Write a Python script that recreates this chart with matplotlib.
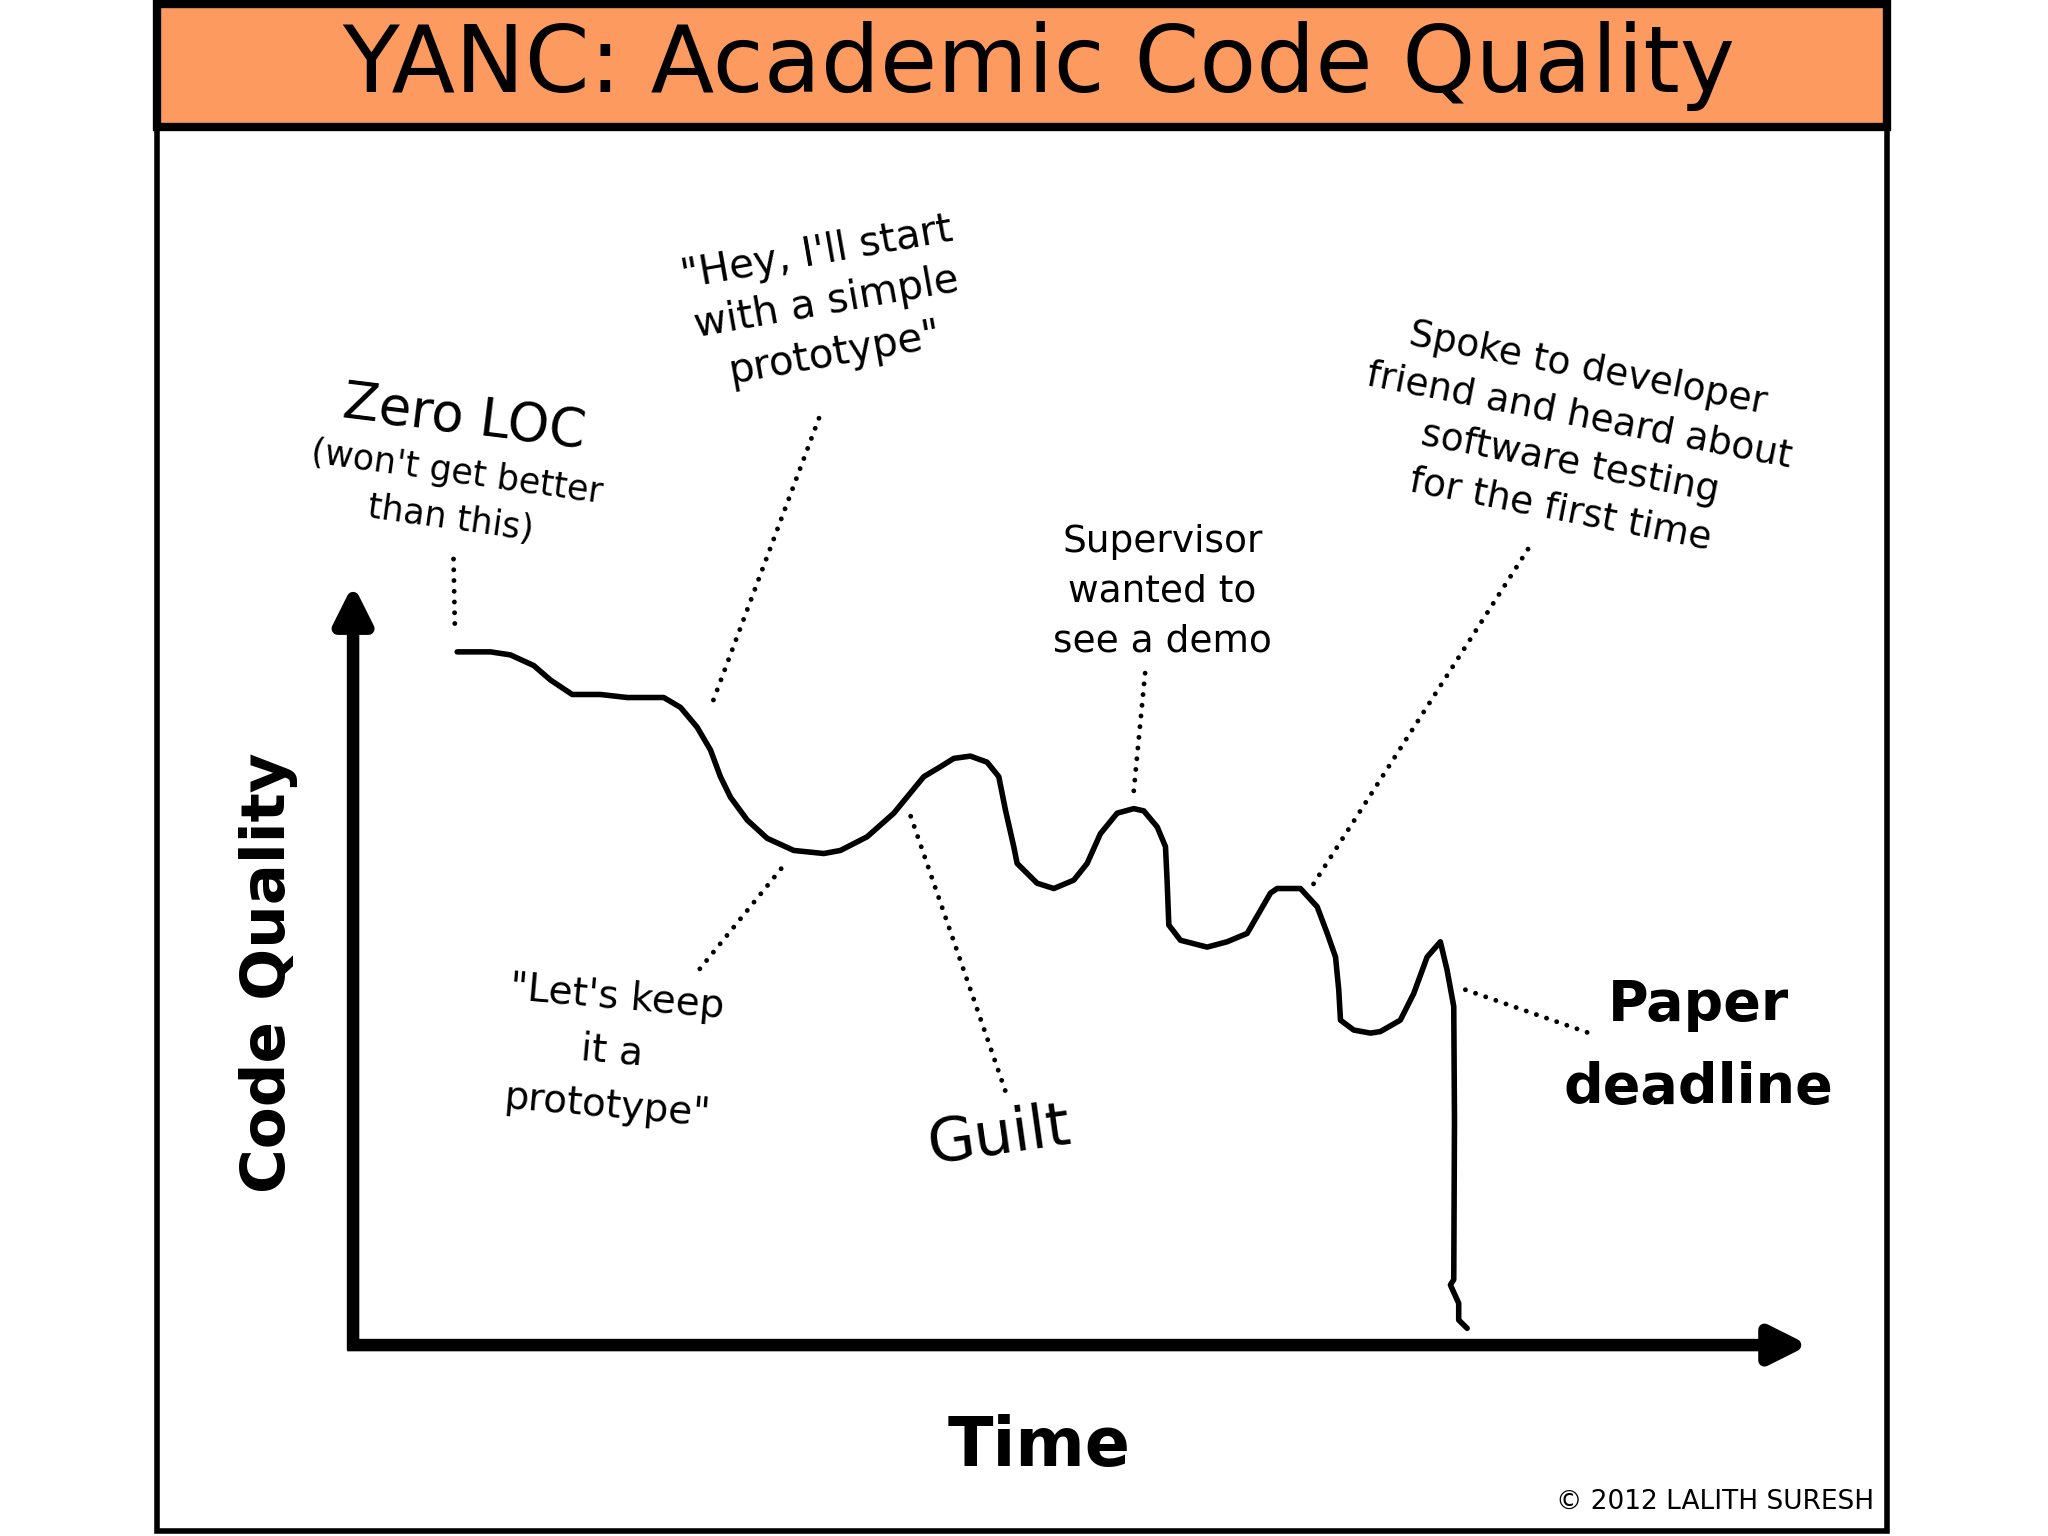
import matplotlib
matplotlib.use("Agg")
import matplotlib.pyplot as plt
from matplotlib.patches import Rectangle
from matplotlib import font_manager

# curve (time vs code quality, both 0..100)
time = [7.15, 9.44, 10.81, 12.41, 13.56, 15.05, 16.99, 18.83, 21.34, 22.49,
        23.63, 24.55, 25.23, 25.92, 27.07, 28.44, 30.27, 32.33, 33.47, 35.31,
        37.14, 39.20, 40.34, 41.26, 42.40, 43.55, 44.35, 44.81, 45.38, 45.61,
        46.98, 48.13, 49.50, 50.42, 51.33, 52.48, 53.62, 54.31, 55.23, 55.80,
        55.91, 56.03, 56.83, 58.66, 60.03, 61.41, 63.01, 63.47, 65.07, 66.22,
        66.91, 67.48, 67.70, 67.82, 68.73, 69.88, 70.56, 71.93, 72.85, 73.77,
        74.68, 75.14, 75.60, 75.65, 75.60, 75.37, 75.94, 75.94, 76.52]
quality = [91.1, 91.1, 90.7, 89.3, 87.4, 85.5, 85.5, 85.1, 85.1, 83.8,
           81.2, 78.2, 74.7, 72.0, 69.0, 66.6, 65.0, 64.6, 65.0, 66.8,
           69.9, 74.7, 76.0, 77.1, 77.4, 76.6, 74.7, 70.3, 65.5, 63.3,
           60.7, 60.0, 61.1, 63.3, 67.2, 69.9, 70.5, 70.2, 68.1, 65.5,
           61.1, 55.2, 53.2, 52.3, 53.0, 54.1, 59.4, 60.0, 60.0, 57.6,
           54.1, 51.0, 46.7, 42.7, 41.4, 41.0, 41.2, 42.7, 46.2, 51.0,
           53.0, 49.3, 44.5, 29.6, 8.6, 7.9, 5.5, 3.3, 2.2]

# annotations: text, text position, rotation, size, dotted leader (start, end)
labels = ["Zero LOC", "(won't get better\nthan this)",
          "\"Hey, I'll start\nwith a simple\nprototype\"",
          "\"Let's keep\nit a\nprototype\"", "Guilt",
          "Supervisor\nwanted to\nsee a demo",
          "Spoke to developer\nfriend and heard about\nsoftware testing\nfor the first time",
          "Paper\ndeadline"]
label_x = [7.6, 6.9, 32.5, 17.8, 44.4, 55.6, 83.9, 92.4]
label_y = [121.8, 111.6, 136.9, 38.6, 27.4, 99.0, 119.0, 39.2]
label_rot = [-7, -8, 10, -5, 8, 0, -11, 0]
label_size = [38, 25, 29, 28, 44, 27, 27, 40]
label_bold = [False, False, False, False, False, False, False, True]
label_spacing = [1.2, 1.45, 1.35, 1.55, 1.2, 1.5, 1.42, 1.7]

leader_x0 = [6.9, 32.0, 29.4, 38.3, 54.4, 80.7, 76.4]
leader_y0 = [103.3, 121.8, 62.6, 69.5, 88.3, 104.6, 46.7]
leader_x1 = [7.0, 24.5, 23.8, 44.8, 53.6, 65.9, 85.2]
leader_y1 = [93.5, 83.5, 49.4, 33.4, 72.4, 60.4, 40.8]

names = {f.name for f in font_manager.fontManager.ttflist}
title_font = "DejaVu Sans"
for cand in ["DejaVu Sans Condensed", "Liberation Sans Narrow"]:
    if cand in names:
        title_font = cand
        break
plt.rcParams['font.family'] = ['DejaVu Sans']

fig = plt.figure(figsize=(20.48, 15.36), dpi=100)

# panel frame and title bar
fig.patches.append(Rectangle((0.0766, 0.0033), 0.8448, 0.9941, transform=fig.transFigure,
                             facecolor='none', edgecolor='black', lw=4, zorder=0))
fig.patches.append(Rectangle((0.0766, 0.9173), 0.8448, 0.0801, transform=fig.transFigure,
                             facecolor='#FD9A60', edgecolor='black', lw=6, zorder=1))
fig.text(0.507, 0.957, "YANC: Academic Code Quality", ha='center', va='center',
         fontsize=67, family=title_font, color='black', zorder=3)

ax = fig.add_axes([0.1724, 0.1243, 0.7109, 0.4954])
ax.set_zorder(2)
ax.set_xlim(0, 100)
ax.set_ylim(0, 100)
ax.axis('off')

# axes as thick arrows
ax.annotate("", xy=(0, 100), xytext=(0, -0.7), annotation_clip=False,
            arrowprops=dict(arrowstyle='-|>', lw=9, color='black', mutation_scale=55,
                            shrinkA=0, shrinkB=0, capstyle='butt'))
ax.annotate("", xy=(100, 0), xytext=(-0.4, 0), annotation_clip=False,
            arrowprops=dict(arrowstyle='-|>', lw=9, color='black', mutation_scale=55,
                            shrinkA=0, shrinkB=0, capstyle='butt'))

ax.plot(time, quality, color='black', lw=4, solid_joinstyle='round',
        solid_capstyle='round', clip_on=False)

for x0, y0, x1, y1 in zip(leader_x0, leader_y0, leader_x1, leader_y1):
    ax.plot([x0, x1], [y0, y1], color='black', lw=3.5, ls=(0, (0.01, 2.2)),
            dash_capstyle='round', clip_on=False)

for t, x, y, r, s, b, ls in zip(labels, label_x, label_y, label_rot, label_size,
                                label_bold, label_spacing):
    ax.text(x, y, t, ha='center', va='center', rotation=r, fontsize=s,
            fontweight='bold' if b else 'normal', linespacing=ls,
            rotation_mode='anchor', clip_on=False)

ax.text(-5.8, 48.9, "Code Quality", rotation=90, ha='center', va='center',
        fontsize=44, fontweight='bold', clip_on=False)
ax.text(47.1, -13.4, "Time", ha='center', va='center', fontsize=48,
        fontweight='bold', clip_on=False)
ax.text(104.5, -20.6, "© 2012 LALITH SURESH", ha='right', va='center',
        fontsize=19, family=title_font, clip_on=False)

fig.savefig("out.png", dpi=100)
